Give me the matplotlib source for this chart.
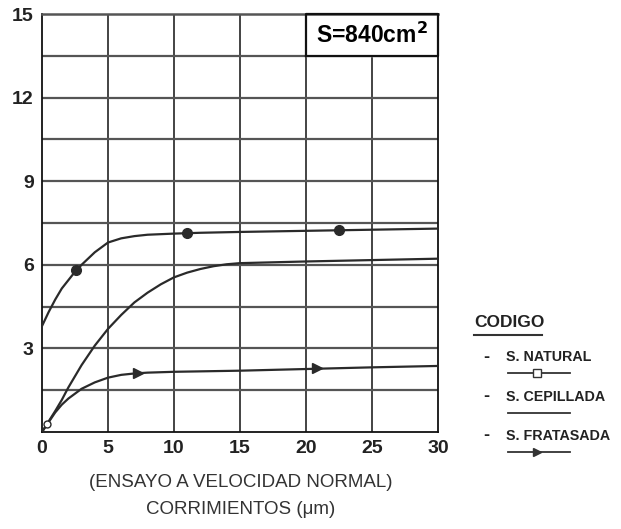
import matplotlib.pyplot as plt
from matplotlib.lines import Line2D

# datos
nat_x = [0, 0.5, 1, 1.5, 2, 2.5, 3, 4, 5, 6, 7, 8, 10, 12, 15, 20, 25, 30]
nat_y = [3.8, 4.3, 4.75, 5.15, 5.45, 5.75, 6.0, 6.45, 6.8, 6.95, 7.03, 7.08,
         7.12, 7.15, 7.18, 7.22, 7.26, 7.3]
nat_mx = [2.6, 11, 22.5]
nat_my = [5.8, 7.14, 7.25]

cep_x = [0, 1, 1.5, 2, 3, 4, 5, 6, 7, 8, 9, 10, 11, 12, 13, 14, 15, 20, 25, 30]
cep_y = [0, 0.75, 1.15, 1.6, 2.4, 3.1, 3.7, 4.2, 4.65, 5.0, 5.3, 5.55, 5.72,
         5.85, 5.95, 6.02, 6.06, 6.12, 6.17, 6.22]

fra_x = [0, 0.5, 1, 1.5, 2, 3, 4, 5, 6, 7, 8, 10, 15, 20, 25, 30]
fra_y = [0, 0.35, 0.7, 0.98, 1.2, 1.55, 1.78, 1.95, 2.05, 2.1, 2.13, 2.16,
         2.2, 2.26, 2.32, 2.37]
fra_mx = [7.3, 20.8]
fra_my = [2.1, 2.28]

x_ticks = [0, 5, 10, 15, 20, 25, 30]
y_ticks = [3, 6, 9, 12, 15]
leyenda = ['S. NATURAL', 'S. CEPILLADA', 'S. FRATASADA']

col = '#2a2a2a'
fuente = 'Liberation Sans'
fig = plt.figure(figsize=(6.21, 5.29), dpi=100)
ax = fig.add_axes([0.0676, 0.1834, 0.6377, 0.79])
ax.set_xlim(0, 30)
ax.set_ylim(0, 15)

# cuadricula
for v in range(5, 30, 5):
    ax.axvline(v, color='#111111', lw=1.1, zorder=1)
for h in [1.5 * i for i in range(1, 10)]:
    ax.axhline(h, color='#555555', lw=1.6, zorder=1)
for s in ax.spines.values():
    s.set_color('#111111')
    s.set_linewidth(1.3)
ax.spines['top'].set_color('#555555')
ax.spines['top'].set_linewidth(1.8)

# curvas
ax.plot(nat_x, nat_y, color=col, lw=1.6, zorder=3)
ax.plot(nat_mx, nat_my, ls='none', marker='o', ms=7, color=col, zorder=4)
ax.plot(cep_x, cep_y, color=col, lw=1.6, zorder=3)
ax.plot([0.35], [0.3], ls='none', marker='o', ms=5, mfc='white', mec=col, zorder=4)
ax.plot(fra_x, fra_y, color=col, lw=1.6, zorder=3)
ax.plot(fra_mx, fra_my, ls='none', marker='>', ms=7, color=col, zorder=4)

# recuadro superficie
ax.fill_between([20, 30], 13.5, 15, color='white', zorder=2)
ax.plot([20, 20, 30, 30, 20], [13.5, 15, 15, 13.5, 13.5], color='#111111', lw=1.6,
        zorder=5, clip_on=False)
ax.text(25, 14.25, 'S=840cm$^\\mathbf{2}$', ha='center', va='center',
        fontsize=16.5, fontweight='bold', family=fuente, zorder=6)

ax.set_xticks(x_ticks)
ax.set_yticks(y_ticks)
ax.tick_params(length=0, pad=6)
for t in ax.get_xticklabels() + ax.get_yticklabels():
    t.set_fontsize(14)
    t.set_fontweight('bold')
    t.set_family(fuente)
    t.set_color('#222222')

fig.text(0.387, 0.087, '(ENSAYO A VELOCIDAD NORMAL)', ha='center', va='center',
         fontsize=13.5, family=fuente, color='#333333')
fig.text(0.387, 0.036, 'CORRIMIENTOS (\u03bcm)', ha='center', va='center',
         fontsize=13.5, family=fuente, color='#333333')

# leyenda
fig.text(0.763, 0.391, 'CODIGO', ha='left', va='center', fontsize=12.5,
         fontweight='bold', family=fuente, color='#222222')
fig.add_artist(Line2D([0.763, 0.872], [0.367, 0.367], color='#333333', lw=1.5))
ty = [0.325, 0.250, 0.176]
mk = ['s', None, '>']
for nombre, yy, m in zip(leyenda, ty, mk):
    fig.text(0.778, yy, '-', ha='left', va='center', fontsize=13, fontweight='bold',
             family=fuente, color='#222222')
    fig.text(0.815, yy, nombre, ha='left', va='center', fontsize=10.3,
             fontweight='bold', family=fuente, color='#222222')
    ly = yy - 0.03
    fig.add_artist(Line2D([0.818, 0.918], [ly, ly], color='#333333', lw=1.3))
    if m is not None:
        fig.add_artist(Line2D([0.865], [ly], marker=m, ms=6, color='#333333',
                              mfc='white' if m == 's' else '#333333', ls='none'))

fig.savefig('out.png', dpi=100)
